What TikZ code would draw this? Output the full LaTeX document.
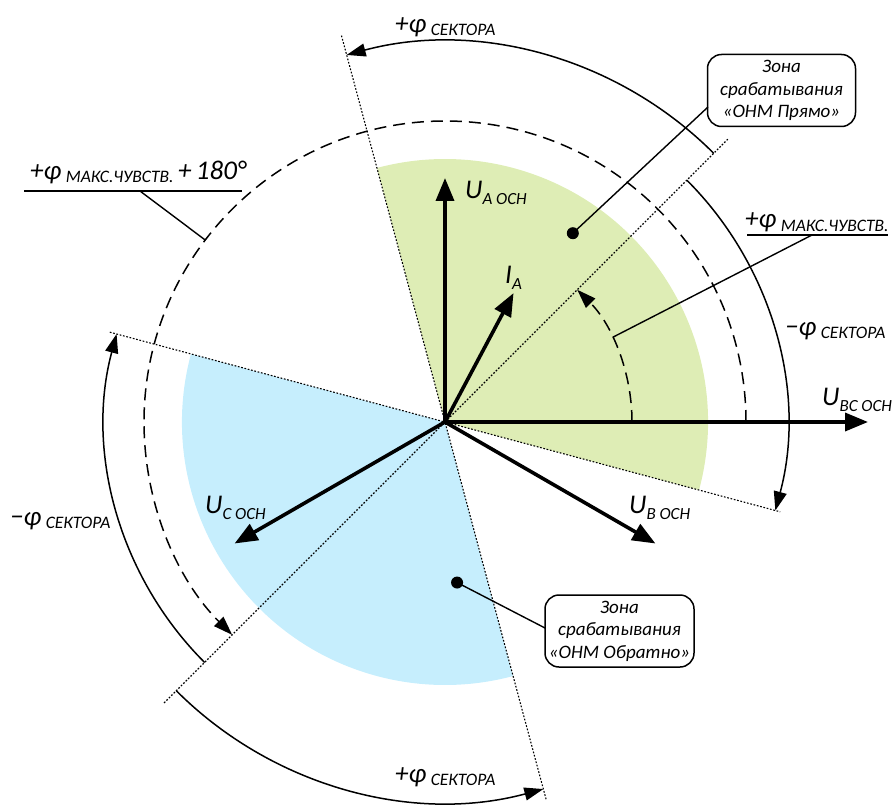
\documentclass[tikz,border=0pt]{standalone}
\usepackage{fontspec}
\setmainfont{Carlito}
\usetikzlibrary{arrows.meta,calc}
\definecolor{zgreen}{RGB}{222,237,181}
\definecolor{zblue}{RGB}{198,238,253}
\newcommand{\bigf}{\fontsize{27}{30}\selectfont\itshape}
\newcommand{\phisub}[1]{\raisebox{-3pt}{\fontsize{17.5}{18}\selectfont\itshape #1}}
\newcommand{\usub}[1]{\raisebox{-6pt}{\fontsize{17}{18}\selectfont\itshape #1}}
\begin{document}
\begin{tikzpicture}[x=1pt,y=1pt,
  vec/.style={line width=3.6pt,-{Triangle[length=23pt,width=18pt]}},
  arcarrow/.style={line width=1.5pt,-{Triangle[length=19pt,width=13pt]}},
  dashedarc/.style={line width=1.5pt,dash pattern=on 12pt off 7pt,-{Triangle[length=19pt,width=13pt]}},
  boundary/.style={line width=1.1pt,dash pattern=on 1.7pt off 1.7pt},
  leader/.style={line width=1.4pt},
  lbl/.style={anchor=base west,inner sep=0pt,font=\bigf},
  zonebox/.style={draw,line width=1.5pt,rounded corners=14pt,align=center,
    font=\fontsize{19}{22.5}\selectfont\itshape,inner sep=0pt,
    minimum width=148pt,minimum height=72pt},
  zdot/.style={circle,fill=black,inner sep=0pt,minimum size=12pt}
]
\useasboundingbox (0,0) rectangle (894,-805);
\begin{scope}[shift={(445,-422)}]
\coordinate (O) at (0,0);
% zones
\fill[zgreen] (O) -- (-15:263) arc[start angle=-15,end angle=105,radius=263] -- cycle;
\fill[zblue] (O) -- (165:263) arc[start angle=165,end angle=285,radius=263] -- cycle;
% sector boundaries
\coordinate (b1) at (105:400); \coordinate (b2) at (285:392);
\coordinate (c1) at (165:347); \coordinate (c2) at (-15:347);
\coordinate (m1) at (45:400);  \coordinate (m2) at (225:398);
\draw[boundary] (b1) -- (b2);
\draw[boundary] (c1) -- (c2);
\draw[boundary] (m1) -- (m2);
% sector arcs
\coordinate (ta) at (45:380);
\draw[arcarrow] (ta) arc[start angle=45,end angle=105,radius=380];
\coordinate (ra) at (45:342);
\draw[arcarrow] (ra) arc[start angle=45,end angle=-15,radius=342];
\coordinate (la) at (225:340);
\draw[arcarrow] (la) arc[start angle=225,end angle=165,radius=340];
\coordinate (ba) at (225:380);
\draw[arcarrow] (ba) arc[start angle=225,end angle=285,radius=380];
% dashed arcs
\coordinate (da) at (0:301);
\draw[dashedarc] (da) arc[start angle=0,end angle=225,radius=301];
\coordinate (ia) at (0:187);
\draw[dashedarc] (ia) arc[start angle=0,end angle=45,radius=187];
% vectors
\coordinate (UA) at (90:244);
\coordinate (UB) at (-30:243);
\coordinate (UC) at (210:243);
\coordinate (UBC) at (0:423);
\coordinate (IA) at (62:146);
\draw[vec] (O) -- (UBC);
\draw[vec] (O) -- (UA);
\draw[vec] (O) -- (UB);
\draw[vec] (O) -- (UC);
\draw[vec] (O) -- (IA);
% dots and leader targets
\node[zdot] (d1) at (55.9:228) {};
\node[zdot] (d2) at (-85.7:161) {};
\coordinate (l1) at (142.8:301);
\coordinate (l2) at (26.8:188);
\end{scope}
% labels
\node[lbl] (tphi) at (395,-33) {+φ\,\phisub{СЕКТОРА}};
\node[lbl] (rphi) at (785,-335) {−φ\,\phisub{СЕКТОРА}};
\node[lbl] (lphi) at (10,-525) {−φ\,\phisub{СЕКТОРА}};
\node[lbl] (bphi) at (395,-782) {+φ\,\phisub{СЕКТОРА}};
\node[lbl] (lUBC) at (822,-405) {U\usub{BC ОСН}};
\node[lbl] (lUB) at (629,-513) {U\usub{B ОСН}};
\node[lbl] (lUA) at (465,-199) {U\usub{A ОСН}};
\node[lbl] (lUC) at (205,-513) {U\usub{C ОСН}};
\node[lbl] (lIA) at (505,-283) {I\usub{A}};
\node[lbl] (mx1) at (30,-180) {+φ\,\phisub{МАКС.ЧУВСТВ.}\,+\,180°};
\node[lbl] (mx2) at (745,-228) {+φ\,\phisub{МАКС.ЧУВСТВ.}};
% underlines and leaders
\coordinate (u1a) at (24,-191); \coordinate (u1b) at (242,-191); \coordinate (u1m) at (140,-191);
\draw[leader] (u1a) -- (u1b);
\draw[leader] (u1m) -- (l1);
\coordinate (u2a) at (747,-235); \coordinate (u2b) at (888,-235); \coordinate (u2m) at (812,-235);
\draw[leader] (u2a) -- (u2b);
\draw[leader] (u2m) -- (l2);
% zone boxes
\node[zonebox] (z1) at (781.5,-90.5) {Зона\\срабатывания\\«ОНМ Прямо»};
\node[zonebox,minimum width=149pt] (z2) at (619.5,-631) {Зона\\срабатывания\\«ОНМ Обратно»};
\coordinate (z1p) at (708,-107);
\coordinate (z2p) at (545,-628);
\draw[leader] (z1p) -- (d1.center);
\draw[leader] (z2p) -- (d2.center);
\end{tikzpicture}
\end{document}
